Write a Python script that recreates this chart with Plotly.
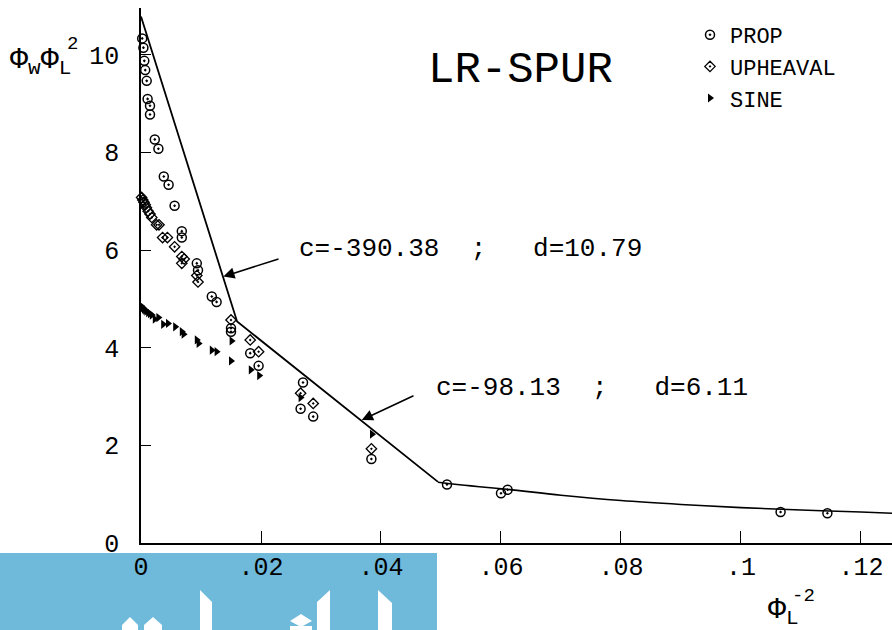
import plotly.graph_objects as go

# ---- measured points ----
PROP_X = [0.0002, 0.0004, 0.00055, 0.0007, 0.00095, 0.0011, 0.0015, 0.0015, 0.0023, 0.0029,
          0.0038, 0.0046, 0.0056, 0.0068, 0.0068, 0.0093, 0.0095, 0.0118, 0.0126, 0.0150,
          0.0150, 0.0182, 0.0196, 0.0270, 0.0266, 0.0287, 0.0384, 0.0510, 0.0600, 0.0611,
          0.1066, 0.1144]
PROP_Y = [10.34, 10.15, 9.88, 9.69, 9.47, 9.10, 8.96, 8.78, 8.27, 8.08,
          7.51, 7.34, 6.91, 6.39, 6.26, 5.73, 5.59, 5.05, 4.94, 4.40,
          4.33, 3.89, 3.63, 3.29, 2.75, 2.59, 1.72, 1.20, 1.02, 1.09,
          0.635, 0.61]

UPH_X = [0.0001, 0.0003, 0.0005, 0.0007, 0.0009, 0.0012, 0.0015, 0.0018, 0.0026, 0.0030,
         0.0036, 0.0044, 0.0056, 0.0068, 0.0072, 0.0068, 0.0093, 0.0095, 0.0150, 0.0182,
         0.0196, 0.0266, 0.0287, 0.0384]
UPH_Y = [7.08, 7.03, 6.98, 6.93, 6.87, 6.80, 6.74, 6.67, 6.52, 6.52,
         6.26, 6.26, 6.07, 5.87, 5.82, 5.73, 5.48, 5.35, 4.57, 4.16,
         3.92, 3.07, 2.86, 1.93]

SINE_X = [0.0001, 0.0003, 0.0005, 0.0007, 0.0009, 0.0012, 0.0015, 0.0018, 0.0023, 0.0029,
          0.0037, 0.0045, 0.0057, 0.0068, 0.0071, 0.0093, 0.0096, 0.0118, 0.0126, 0.0151,
          0.0150, 0.0183, 0.0197, 0.0266, 0.0385]
SINE_Y = [4.85, 4.82, 4.79, 4.77, 4.75, 4.72, 4.70, 4.67, 4.59, 4.62,
          4.48, 4.50, 4.43, 4.33, 4.28, 4.16, 4.09, 3.95, 3.92, 4.14,
          3.73, 3.55, 3.43, 2.98, 2.23]

# ---- fitted model: two straight pieces y = d + c*x, then a flat tail ----
SEG1_C, SEG1_D = -390.38, 10.79
SEG2_C, SEG2_D = -98.13, 6.11
SEG2_END = 0.0495
TAIL_X = [0.0495, 0.055, 0.061, 0.07, 0.08, 0.09, 0.10, 0.11, 0.12, 0.1252]
TAIL_Y = [1.245, 1.17, 1.10, 0.98, 0.87, 0.79, 0.725, 0.675, 0.635, 0.61]

X_TICKS = [0, 0.02, 0.04, 0.06, 0.08, 0.10, 0.12]
X_TICKTEXT = ["0", ".02", ".04", ".06", ".08", ".1", ".12"]
Y_TICKS = [0, 2, 4, 6, 8, 10]

knee = (SEG2_D - SEG1_D) / (SEG1_C - SEG2_C)
lin_x = [0.0, knee, SEG2_END]
lin_y = [SEG1_D, SEG1_D + SEG1_C * knee, SEG2_D + SEG2_C * SEG2_END]

FONT = "Liberation Mono"
W, H = 892, 630
ML, MR, MT, MB = 141, 0, 8, 87


def pxp(x):
    return (x - ML) / (W - ML - MR)


def pyp(y):
    return (H - MB - y) / (H - MT - MB)


fig = go.Figure()

fig.add_trace(go.Scatter(x=lin_x, y=lin_y, mode="lines", line=dict(color="black", width=1.8),
                         showlegend=False, hoverinfo="skip"))
fig.add_trace(go.Scatter(x=TAIL_X, y=TAIL_Y, mode="lines",
                         line=dict(color="black", width=1.6, shape="spline", smoothing=1.0),
                         showlegend=False, hoverinfo="skip", cliponaxis=False))
fig.add_trace(go.Scatter(x=PROP_X, y=PROP_Y, mode="markers", name="PROP", cliponaxis=False,
                         marker=dict(symbol="circle-open-dot", size=9, color="black",
                                     line=dict(width=1.5, color="black"))))
fig.add_trace(go.Scatter(x=UPH_X, y=UPH_Y, mode="markers", name="UPHEAVAL", cliponaxis=False,
                         marker=dict(symbol="diamond-open-dot", size=8, color="black",
                                     line=dict(width=1.3, color="black"))))
fig.add_trace(go.Scatter(x=SINE_X, y=SINE_Y, mode="markers", name="SINE", cliponaxis=False,
                         marker=dict(symbol="triangle-right", size=8, color="black")))

# blue strip with white glyphs below the left part of the axis
shapes = [dict(type="rect", xref="paper", yref="paper", layer="below",
               x0=pxp(0), x1=pxp(437), y0=pyp(553), y1=pyp(632),
               fillcolor="#6fb9da", line=dict(width=0))]
white_polys = [
    [(200, 590), (212, 602), (212, 632), (200, 632)],
    [(317, 602), (330, 590), (330, 632), (317, 632)],
    [(378, 590), (392, 603), (392, 632), (378, 632)],
    [(122, 625), (130, 617), (138, 625), (138, 632), (122, 632)],
    [(144, 625), (153, 617), (162, 625), (162, 632), (144, 632)],
    [(290, 621), (301, 614), (312, 621), (301, 627)],
    [(290, 626), (312, 626), (312, 632), (290, 632)],
]
for poly in white_polys:
    path = "M " + " L ".join(f"{pxp(a):.5f},{pyp(b):.5f}" for a, b in poly) + " Z"
    shapes.append(dict(type="path", xref="paper", yref="paper", layer="below", path=path,
                       fillcolor="white", line=dict(width=0)))

annotations = [
    dict(x=0.0633, y=9.69, xref="x", yref="y", text="LR-SPUR", showarrow=False,
         font=dict(family=FONT, size=44, color="black")),
    dict(x=0.055, y=6.02, xref="x", yref="y", text="c=-390.38  ;   d=10.79", showarrow=False,
         font=dict(family=FONT, size=26, color="black")),
    dict(x=0.0752, y=3.18, xref="x", yref="y", text="c=-98.13  ;   d=6.11", showarrow=False,
         font=dict(family=FONT, size=26, color="black")),
    dict(x=0.01372, y=5.46, ax=0.02317, ay=5.83, xref="x", yref="y", axref="x", ayref="y",
         text="", showarrow=True, arrowhead=2, arrowsize=1.4, arrowwidth=1.6, arrowcolor="black"),
    dict(x=0.0368, y=2.52, ax=0.04567, ay=3.03, xref="x", yref="y", axref="x", ayref="y",
         text="", showarrow=True, arrowhead=2, arrowsize=1.4, arrowwidth=1.6, arrowcolor="black"),
    # y-axis title
    dict(x=pxp(8), y=pyp(62), xref="paper", yref="paper", xanchor="left", yanchor="middle",
         text="Φ<sub>w</sub>Φ<sub>L</sub>", showarrow=False,
         font=dict(family=FONT, size=30, color="black")),
    dict(x=pxp(72), y=pyp(44), xref="paper", yref="paper", xanchor="center", yanchor="middle",
         text="2", showarrow=False, font=dict(family=FONT, size=19, color="black")),
    # x-axis title
    dict(x=pxp(766), y=pyp(611), xref="paper", yref="paper", xanchor="left", yanchor="middle",
         text="Φ<sub>L</sub>", showarrow=False, font=dict(family=FONT, size=30, color="black")),
    dict(x=pxp(803), y=pyp(596), xref="paper", yref="paper", xanchor="center", yanchor="middle",
         text="-2", showarrow=False, font=dict(family=FONT, size=19, color="black")),
]

fig.update_layout(
    width=W, height=H,
    margin=dict(l=ML, r=MR, t=MT, b=MB),
    paper_bgcolor="white", plot_bgcolor="white",
    font=dict(family=FONT, color="black"),
    shapes=shapes, annotations=annotations,
    legend=dict(x=pxp(690), y=pyp(14), xanchor="left", yanchor="top", itemwidth=30,
                bgcolor="rgba(0,0,0,0)", font=dict(family=FONT, size=22, color="black"),
                tracegroupgap=0),
    xaxis=dict(range=[0, 0.12517], tickvals=X_TICKS, ticktext=X_TICKTEXT, ticks="inside",
               ticklen=12, tickwidth=1.3, tickcolor="black", showline=True, linecolor="black",
               linewidth=1.6, showgrid=False, zeroline=False, ticklabelstandoff=0,
               tickfont=dict(family=FONT, size=25, color="black")),
    yaxis=dict(range=[0, 10.963], tickvals=Y_TICKS, ticks="inside", ticklen=10, tickwidth=1.3,
               tickcolor="black", showline=True, linecolor="black", linewidth=1.6,
               showgrid=False, zeroline=False, ticklabelstandoff=15,
               tickfont=dict(family=FONT, size=25, color="black")),
)

fig.write_html("out.html")
